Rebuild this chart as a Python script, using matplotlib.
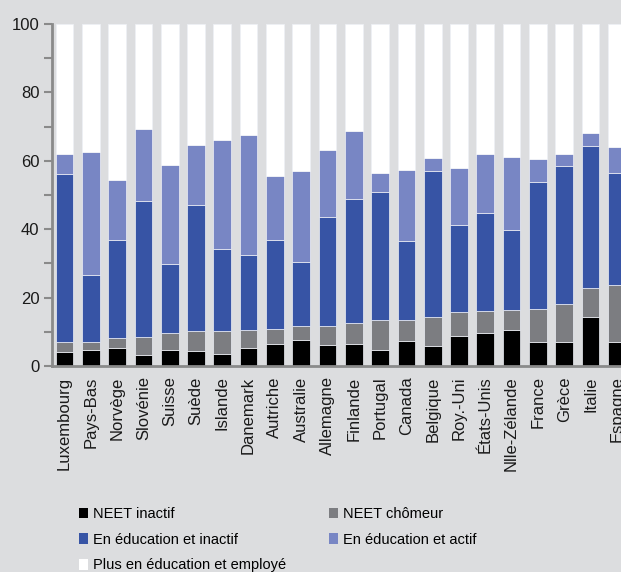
import numpy as np
import matplotlib
matplotlib.use('Agg')
import matplotlib.pyplot as plt
from matplotlib.patches import Patch

#%%
pays = ['Luxembourg', 'Pays-Bas', 'Norvège', 'Slovénie', 'Suisse', 'Suède',
        'Islande', 'Danemark', 'Autriche', 'Australie', 'Allemagne', 'Finlande',
        'Portugal', 'Canada', 'Belgique', 'Roy.-Uni', 'États-Unis',
        'Nlle-Zélande', 'France', 'Grèce', 'Italie', 'Espagne']

# cumulated tops of each segment (%)
neet_inactif = [4.1, 4.7, 5.3, 3.2, 4.7, 4.4, 3.6, 5.3, 6.4, 7.6, 6.1, 6.5,
                4.6, 7.2, 5.9, 8.8, 9.7, 10.5, 7.0, 7.0, 14.2, 7.0]
neet_chomeur_top = [6.9, 6.9, 8.3, 8.6, 9.7, 10.1, 10.1, 10.4, 10.9, 11.7, 11.8, 12.6,
                    13.4, 13.4, 14.2, 15.8, 16.0, 16.3, 16.6, 18.1, 22.8, 23.7]
educ_inactif_top = [56.0, 26.6, 36.9, 48.1, 29.9, 47.2, 34.2, 32.4, 36.9, 30.4, 43.6, 48.7,
                    50.9, 36.6, 57.1, 41.3, 44.8, 39.8, 53.8, 58.5, 64.4, 56.5]
educ_actif_top = [61.9, 62.5, 54.5, 69.4, 58.8, 64.7, 66.0, 67.6, 55.7, 57.0, 63.1, 68.6,
                  56.5, 57.3, 60.7, 58.0, 62.0, 61.2, 60.4, 62.0, 68.2, 64.0]

labels = ['NEET inactif', 'NEET chômeur', 'En éducation et inactif',
          'En éducation et actif', 'Plus en éducation et employé']
couleurs = ['#000000', '#7c7d81', '#3754a5', '#7886c4', '#ffffff']

#%%
bg = '#dcdddf'
plt.rcParams['font.family'] = ['Liberation Sans', 'DejaVu Sans']

tops = np.array([neet_inactif, neet_chomeur_top, educ_inactif_top, educ_actif_top,
                 [100.0] * len(pays)])
bottoms = np.vstack([np.zeros(len(pays)), tops[:-1]])

fig = plt.figure(figsize=(6.21, 5.72), dpi=100, facecolor=bg)
ax = fig.add_axes([52 / 621, 206 / 572, 580.6 / 621, 342 / 572])
ax.set_facecolor(bg)

x = np.arange(len(pays))
for k in range(5):
    ax.bar(x, tops[k] - bottoms[k], bottom=bottoms[k], width=0.673,
           color=couleurs[k], edgecolor='#eef0f6', linewidth=0.5)

ax.set_xlim(-0.475, 21.6)
ax.set_ylim(0, 100)
ax.set_xticks(x)
ax.set_xticklabels(pays, rotation=90, fontsize=12, color='#1a1a1a')
ax.tick_params(axis='x', length=0, pad=7.5)
ax.set_yticks(range(0, 101, 20))
ax.set_yticks(range(10, 100, 20), minor=True)
ax.tick_params(axis='y', which='both', length=6, width=1.5, color='#8a8a8a',
               labelsize=12, labelcolor='#1a1a1a', pad=3)
for s in ['top', 'right']:
    ax.spines[s].set_visible(False)
for s in ['left', 'bottom']:
    ax.spines[s].set_color('#8a8a8a')
    ax.spines[s].set_linewidth(2)

handles = [Patch(facecolor=c, edgecolor='none') for c in couleurs]
legfont = {'family': ['Liberation Sans'], 'size': 10.5}
opts = dict(loc='upper left', frameon=False, prop=legfont, handlelength=0.65,
            handleheight=0.75, handletextpad=0.3, labelspacing=0.8,
            borderpad=0, borderaxespad=0)
leg1 = fig.legend([handles[0], handles[2], handles[4]],
                  [labels[0], labels[2], labels[4]],
                  bbox_to_anchor=(79 / 621, 1 - 507 / 572), **opts)
leg2 = fig.legend([handles[1], handles[3]], [labels[1], labels[3]],
                  bbox_to_anchor=(329 / 621, 1 - 507 / 572), **opts)

fig.savefig('out.png', dpi=100, facecolor=bg)
